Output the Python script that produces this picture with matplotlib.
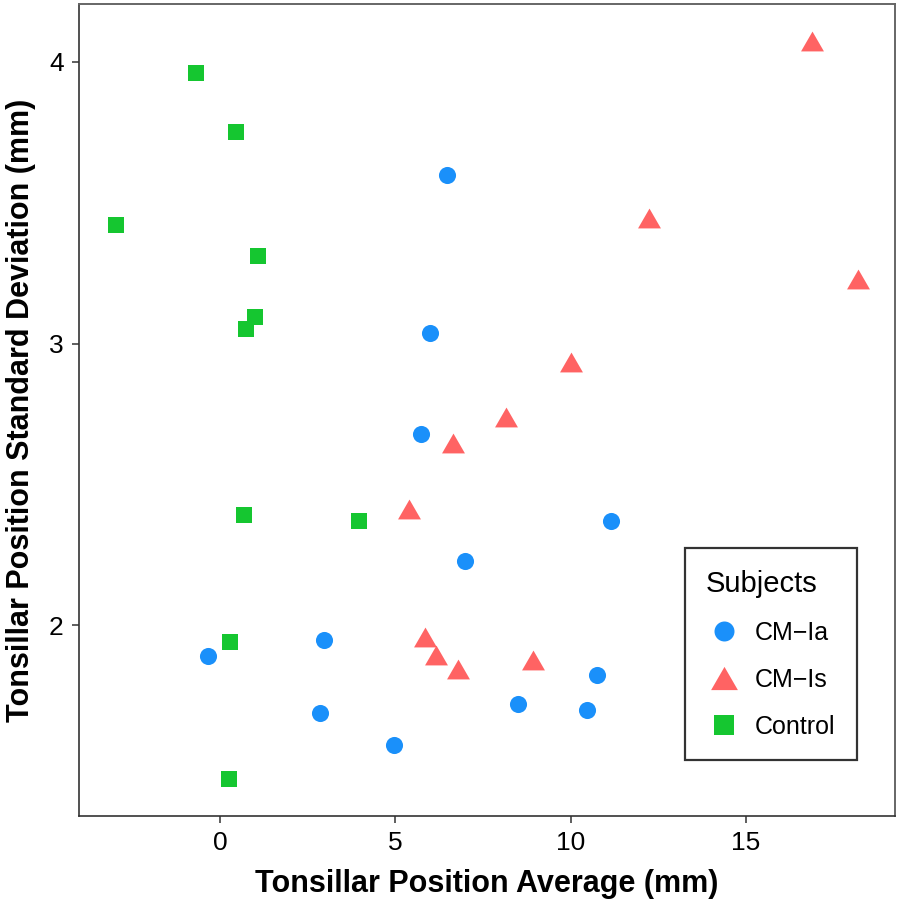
import matplotlib
matplotlib.use("Agg")
import matplotlib.pyplot as plt
import numpy as np

plt.rcParams['font.family'] = ['Liberation Sans', 'DejaVu Sans']

# values
cm_ia_x = [6.47, 5.99, 5.72, 11.14, 6.98, -0.35, 2.97, 2.85, 4.96, 10.76, 8.48, 10.47]
cm_ia_y = [3.60, 3.036, 2.68, 2.372, 2.228, 1.89, 1.95, 1.69, 1.575, 1.823, 1.72, 1.70]

cm_is_x = [16.88, 12.23, 18.19, 10.0, 8.15, 6.64, 5.38, 5.83, 6.16, 6.79, 8.92]
cm_is_y = [4.074, 3.444, 3.229, 2.934, 2.739, 2.647, 2.413, 1.959, 1.895, 1.846, 1.876]

control_x = [-0.69, 0.46, -2.97, 1.07, 0.98, 0.74, 0.69, 3.95, 0.29, 0.24]
control_y = [3.96, 3.75, 3.42, 3.31, 3.095, 3.052, 2.393, 2.37, 1.94, 1.455]

x_ticks = [0, 5, 10, 15]
y_ticks = [2, 3, 4]

# equilateral-ish triangle, centred on its bounding box
tri = [(-1, -0.866), (1, -0.866), (0, 0.866), (-1, -0.866)]

fig = plt.figure(figsize=(8.98, 9.06), dpi=100)
ax = fig.add_axes([79 / 898, 90 / 906, 816 / 898, 812 / 906])

ax.plot(cm_ia_x, cm_ia_y, ls='none', marker='o', ms=12.3, mew=0,
        color='#1A90FA', label='CM\u2212Ia')
ax.plot(cm_is_x, cm_is_y, ls='none', marker=tri, ms=16.5, mew=0,
        color='#FF6363', label='CM\u2212Is')
ax.plot(control_x, control_y, ls='none', marker='s', ms=12.0, mew=0,
        color='#15C630', label='Control')

ax.margins(x=0.05, y=0.05)
ax.set_xticks(x_ticks)
ax.set_yticks(y_ticks)
ax.tick_params(axis='both', length=5, width=1.1, color='#333333',
               labelsize=19, pad=6, labelcolor='black')

for side in ['left', 'bottom']:
    ax.spines[side].set_color('#333333')
    ax.spines[side].set_linewidth(1.2)
for side in ['top', 'right']:
    ax.spines[side].set_color('#666666')
    ax.spines[side].set_linewidth(1.4)

ax.set_xlabel('Tonsillar Position Average (mm)', fontsize=22, fontweight='bold', labelpad=10)
ax.set_ylabel('Tonsillar Position Standard Deviation (mm)', fontsize=22, fontweight='bold', labelpad=9)

leg = ax.legend(title='Subjects', loc='lower right', bbox_to_anchor=(0.953, 0.069),
                borderaxespad=0, fontsize=18, title_fontsize=21, alignment='left',
                frameon=True, fancybox=False, edgecolor='black', labelspacing=0.92,
                borderpad=0.85, handlelength=1.45, handletextpad=0.5, markerscale=1.17)
leg.get_frame().set_linewidth(1.6)

fig.savefig('out.png', dpi=100)
